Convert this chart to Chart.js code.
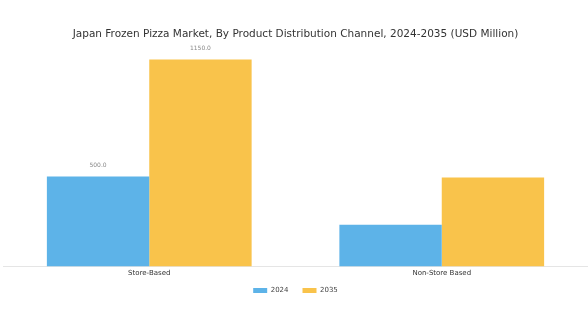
<!DOCTYPE html>
<html>
<head>
<meta charset="utf-8">
<script src="https://cdn.jsdelivr.net/npm/chart.js@4/dist/chart.umd.min.js"></script>
<style>
  html, body { margin: 0; padding: 0; background: #fff; }
  #wrap { width: 588px; height: 321px; }
</style>
</head>
<body>
<div id="wrap"><canvas id="chart"></canvas></div>
<script>
const categories = ["Store-Based", "Non-Store Based"];
const values2024 = [500, 233];
const values2035 = [1150, 495];
const seriesNames = ["2024", "2035"];

// value labels only on the first group, like the original
const valueLabels = {
  id: "valueLabels",
  afterLayout(chart) {
    // pull the legend a bit closer to the axis
    chart.legend.top -= 6;
    chart.legend.bottom -= 6;
  },
  afterDatasetsDraw(chart) {
    const ctx = chart.ctx;
    ctx.save();
    ctx.font = "6px 'DejaVu Sans'";
    ctx.fillStyle = "#888";
    ctx.textAlign = "center";
    ctx.textBaseline = "bottom";
    chart.data.datasets.forEach((ds, i) => {
      const bar = chart.getDatasetMeta(i).data[0];
      ctx.fillText(ds.data[0].toFixed(1), bar.x, bar.y - 8);
    });
    ctx.restore();
  }
};

const ctx = document.getElementById("chart").getContext("2d");
new Chart(ctx, {
  type: "bar",
  data: {
    labels: categories,
    datasets: [
      { label: seriesNames[0], data: values2024, backgroundColor: "#5DB3E8", categoryPercentage: 0.7, barPercentage: 1.0 },
      { label: seriesNames[1], data: values2035, backgroundColor: "#F9C34B", categoryPercentage: 0.7, barPercentage: 1.0 }
    ]
  },
  options: {
    responsive: true,
    maintainAspectRatio: false,
    animation: false,
    layout: { padding: { left: 3, right: 0, top: 8, bottom: 11 } },
    plugins: {
      title: {
        display: true,
        text: "Japan Frozen Pizza Market, By Product Distribution Channel, 2024-2035 (USD Million)",
        color: "#333",
        font: { family: "DejaVu Sans", size: 10.5, weight: "normal" },
        padding: { top: 20, bottom: 8 }
      },
      legend: {
        position: "bottom",
        labels: {
          boxWidth: 14,
          boxHeight: 5,
          padding: 14,
          color: "#444",
          font: { family: "DejaVu Sans", size: 7 }
        }
      },
      tooltip: { enabled: false }
    },
    scales: {
      x: {
        grid: { display: false, drawTicks: false },
        border: { color: "#e5e5e5" },
        ticks: { color: "#333", font: { family: "DejaVu Sans", size: 7 }, padding: 2 }
      },
      y: {
        display: false,
        min: 0,
        max: 1211
      }
    }
  },
  plugins: [valueLabels]
});
</script>
</body>
</html>
